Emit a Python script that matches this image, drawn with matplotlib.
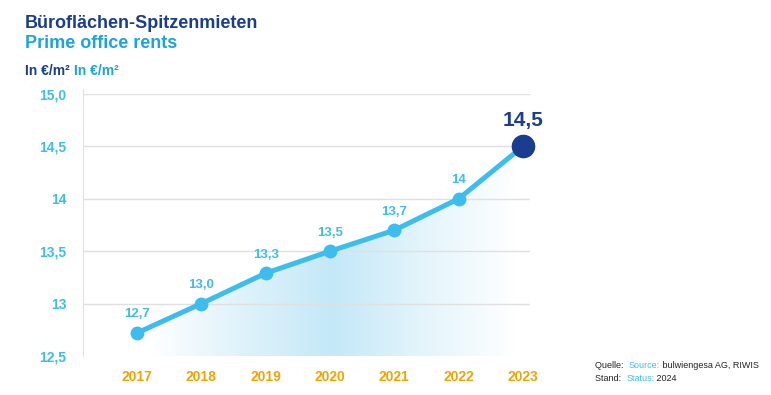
import matplotlib
matplotlib.use("Agg")
import matplotlib.pyplot as plt
import numpy as np
from matplotlib.colors import LinearSegmentedColormap
from matplotlib import font_manager

years = [2017, 2018, 2019, 2020, 2021, 2022, 2023]
rents = [12.72, 13.0, 13.29, 13.5, 13.7, 14.0, 14.5]
point_labels = ["12,7", "13,0", "13,3", "13,5", "13,7", "14", "14,5"]
y_ticks = [12.5, 13.0, 13.5, 14.0, 14.5, 15.0]
y_tick_labels = ["12,5", "13", "13,5", "14", "14,5", "15,0"]

LIGHT = "#3dbdee"
DARK = "#1a3d8f"
ORANGE = "#f5a200"
GREY = "#222222"

names = {f.name for f in font_manager.fontManager.ttflist}
narrow = "Liberation Sans Narrow" if "Liberation Sans Narrow" in names else "Liberation Sans"
plt.rcParams["font.family"] = ["Liberation Sans", "DejaVu Sans"]
cond = [narrow, "DejaVu Sans"]

fig = plt.figure(figsize=(7.71, 3.95), dpi=100)
ax = fig.add_axes([83 / 771, 1 - 356 / 395, (530 - 83) / 771, (356 - 94) / 395])
ax.set_xlim(2016.16, 2023.11)
ax.set_ylim(12.5, 15.0)

# gradient area under the line: transparent at both ends, strongest near 2020
cmap = LinearSegmentedColormap.from_list(
    "fade", [(0.0, (0.77, 0.91, 0.97, 0.0)), (0.25, (0.77, 0.91, 0.97, 0.55)),
             (0.5, (0.77, 0.91, 0.97, 1.0)), (0.75, (0.77, 0.91, 0.97, 0.45)),
             (1.0, (0.77, 0.91, 0.97, 0.0))])
grad = np.linspace(0, 1, 256).reshape(1, -1)
img = ax.imshow(grad, extent=[2017.2, 2022.9, 12.5, 15.0], aspect="auto",
                cmap=cmap, zorder=1, interpolation="bicubic")
poly = ax.fill_between(years, rents, 12.5, color="none", lw=0)
img.set_clip_path(poly.get_paths()[0], transform=ax.transData)

for t in y_ticks[1:]:
    ax.axhline(t, color="#e0e0e0", lw=1, zorder=2, xmin=-0.008)

ax.plot(years, rents, color=LIGHT, lw=3.6, solid_capstyle="round", zorder=3,
        clip_on=False)
ax.plot(years[:-1], rents[:-1], "o", color=LIGHT, ms=9, zorder=4, clip_on=False)
ax.plot(years[-1], rents[-1], "o", color=DARK, ms=16, zorder=5, clip_on=False)

for x, y, lab in zip(years[:-1], rents[:-1], point_labels[:-1]):
    ax.annotate(lab, (x, y), xytext=(0, 9), textcoords="offset points",
                ha="center", va="bottom", color=LIGHT, fontsize=9.5,
                fontweight="bold", family=cond)
ax.annotate(point_labels[-1], (years[-1], rents[-1]), xytext=(0, 12),
            textcoords="offset points", ha="center", va="bottom",
            color=DARK, fontsize=15, fontweight="bold")

for s in ["top", "right", "bottom"]:
    ax.spines[s].set_visible(False)
ax.spines["left"].set_color("#e0e0e0")
ax.spines["left"].set_bounds(12.5, 15.05)
ax.set_yticks(y_ticks)
ax.set_yticklabels(y_tick_labels, color=LIGHT, fontsize=10, fontweight="bold",
                   family=cond)
ax.tick_params(axis="y", length=0, pad=12)
ax.set_xticks(years)
ax.set_xticklabels([str(y) for y in years], color=ORANGE, fontsize=10,
                   fontweight="bold", family=cond)
ax.tick_params(axis="x", length=0, pad=10)

fig.text(25 / 771, 1 - 24 / 395, "Büroflächen-Spitzenmieten", color=DARK,
         fontsize=13, fontweight="bold", va="center")
fig.text(25 / 771, 1 - 44 / 395, "Prime office rents", color="#1ba3e3",
         fontsize=13, fontweight="bold", va="center")
t1 = fig.text(25 / 771, 1 - 75 / 395, "In €/m² ", color=DARK, fontsize=10,
              fontweight="bold", family=cond)
ax.annotate("In €/m²", xy=(1, 0), xycoords=t1, va="bottom", color="#1ba3e3",
            fontsize=10, fontweight="bold", family=cond, annotation_clip=False)

src = dict(fontsize=6.5, family=cond)
q = fig.text(595 / 771, 1 - 368 / 395, "Quelle:  ", color=GREY, **src)
q2 = ax.annotate("Source:", xy=(1, 0), xycoords=q, va="bottom", color=LIGHT,
                 annotation_clip=False, **src)
ax.annotate(" bulwiengesa AG, RIWIS", xy=(1, 0), xycoords=q2, va="bottom",
            color=GREY, annotation_clip=False, **src)
s = fig.text(595 / 771, 1 - 381 / 395, "Stand:  ", color=GREY, **src)
s2 = ax.annotate("Status:", xy=(1, 0), xycoords=s, va="bottom", color=LIGHT,
                 annotation_clip=False, **src)
ax.annotate(" 2024", xy=(1, 0), xycoords=s2, va="bottom", color=GREY,
            annotation_clip=False, **src)

fig.savefig("out.png", dpi=100)
